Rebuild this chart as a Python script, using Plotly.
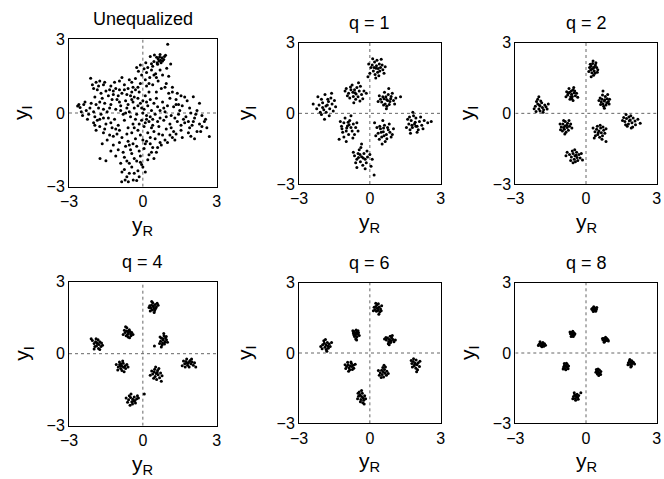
import plotly.graph_objects as go

W, H = 664, 479

TITLES = ["Unequalized", "q = 1", "q = 2", "q = 4", "q = 6", "q = 8"]
TICK_VALS = [-3, 0, 3]
TICK_TEXT = ["\u22123", "0", "3"]

UNEQ_PTS = [
    (1.01,2.80),(0.47,2.36),(0.56,2.27),(0.70,2.38),(0.78,2.25),(0.85,2.18),(0.66,2.12),(0.74,2.05),(0.60,1.98),
    (0.12,2.05),(-0.10,1.95),(0.20,1.85),(0.35,1.75),(-0.18,1.70),(0.45,2.10),(1.13,1.99),(0.97,1.82),(0.30,2.30),
    (-0.05,1.55),(0.52,1.60),(0.28,1.45),(0.80,1.55),(0.10,1.35),(-0.30,1.40),(0.62,1.30),(0.40,1.15),(0.95,1.20),
    (-0.45,1.25),(0.15,1.10),(1.20,1.05),(0.75,1.00),(-0.20,1.05),(0.55,0.85),(1.05,0.80),(0.90,1.05),
    (-2.12,1.41),(-1.90,1.25),(-1.75,1.30),(-1.60,1.15),(-2.00,1.00),(-1.85,0.95),(-1.50,0.90),(-1.30,1.10),
    (-1.10,1.00),(-0.95,1.30),(-0.75,1.15),(-0.60,1.00),(-1.40,0.70),(-1.20,0.75),(-1.65,0.60),(-1.95,0.65),
    (-0.85,0.80),(-0.50,0.70),(-1.05,0.55),(-0.70,0.50),(-1.55,0.40),(-1.30,0.35),(-0.90,0.30),(-0.40,0.45),
    (-1.80,0.20),(-1.10,0.15),(-0.65,0.20),(-1.45,0.05),(-0.30,0.95),(-0.85,1.45),(-1.70,0.80),(-1.25,0.55),(-0.55,1.35),
    (-2.55,0.22),(-2.65,0.28),(-2.40,0.35),(-2.30,0.10),(-2.20,-0.05),(-2.45,-0.10),(-2.10,0.40),(-1.95,-0.15),
    (-2.25,-0.25),(-2.00,0.05),(-1.85,-0.30),(-2.35,0.45),(-1.70,-0.05),(-1.60,-0.20),
    (-0.20,0.60),(0.10,0.70),(0.30,0.55),(-0.10,0.40),(0.20,0.30),(0.45,0.40),(-0.35,0.20),(0.05,0.15),(0.35,0.10),
    (-0.25,-0.05),(0.15,-0.10),(0.50,-0.05),(-0.50,-0.15),(-0.05,-0.30),(0.25,-0.35),(-0.40,-0.45),(0.05,-0.55),
    (0.40,-0.50),(-0.20,-0.70),(0.20,-0.80),(-0.60,-0.60),(0.60,0.25),(0.70,-0.20),(-0.75,-0.30),(-0.15,0.85),
    (0.55,0.60),(-0.55,0.05),(0.00,0.50),(-0.30,-0.25),(0.30,-0.15),(-0.10,-0.90),(0.45,-0.75),(-0.80,-0.05),
    (0.80,0.45),(-0.45,0.55),(0.10,-0.40),(-0.65,-0.85),(0.65,-0.55),(0.00,0.00),(-0.90,0.10),
    (2.05,0.66),(1.80,0.50),(1.55,0.70),(1.35,0.55),(1.10,0.60),(1.60,0.30),(1.90,0.20),(2.20,0.10),(1.25,0.25),
    (1.00,0.30),(2.40,-0.10),(2.10,-0.20),(1.75,-0.15),(1.45,-0.05),(1.15,-0.10),(0.90,0.05),(2.50,-0.35),
    (2.30,-0.45),(2.00,-0.50),(1.70,-0.40),(1.40,-0.35),(1.10,-0.45),(0.85,-0.30),(2.60,-0.60),(2.20,-0.75),
    (1.85,-0.80),(1.55,-0.70),(1.25,-0.75),(0.95,-0.65),(2.70,-0.96),(1.60,-1.00),(1.30,-1.10),(1.95,0.00),
    (2.55,-0.25),(1.50,0.10),(1.20,0.85),
    (-0.86,-2.80),(-0.72,-2.73),(-0.59,-2.80),(-0.39,-2.73),(-0.55,-2.45),(-0.75,-2.30),(-0.45,-2.20),(-0.20,-2.35),
    (-0.05,-2.10),(0.10,-2.40),(-0.90,-2.05),(-0.65,-1.95),(-0.35,-1.85),(-0.10,-1.75),(0.20,-1.90),(0.35,-1.60),
    (-1.10,-1.75),(-0.80,-1.60),(-0.50,-1.50),(-0.25,-1.35),(0.05,-1.45),(0.30,-1.25),(-1.20,-1.30),(-0.95,-1.20),
    (-0.60,-1.15),(-0.30,-1.05),(0.00,-1.10),(0.50,-1.05),(0.60,-1.40),(-0.15,-2.60),(-1.74,-1.85),(-1.50,-1.94),
    (-1.30,-1.55),(-1.45,-1.10),(0.45,-1.85),(0.70,-1.20),
    (-2.00,-0.40),(-1.75,-0.55),(-1.50,-0.45),(-1.25,-0.60),(-1.00,-0.50),(-1.60,-0.80),(-1.35,-0.90),(-1.05,-0.85),
    (-0.85,-1.00),(-1.90,-0.70),(-1.15,-0.25),(-1.40,-0.20),
    (0.80,-0.90),(1.00,-1.20),(0.75,-1.30),(1.10,-0.90),(0.55,-1.60),
    (0.62,2.20),(0.88,2.30),(0.72,2.15),(0.40,1.90),(0.05,1.80),(0.55,1.45),(0.25,1.20),(-0.40,1.05),(-0.10,1.20),
    (-1.35,0.95),(-0.95,0.95),(-1.75,0.45),(-0.65,0.75),(-0.20,0.30),(0.35,-0.60),(-0.35,-0.60),(0.15,-0.25),
    (1.65,-0.25),(2.05,-0.35),(1.30,-0.20),(2.35,-0.75),(1.90,-0.60),(-0.40,-1.25),(-0.15,-1.55),(0.15,-1.15),
    (-0.70,-1.35),(-0.25,-1.95),(0.00,-2.20),(-0.55,-2.05),(-1.20,-0.95),(-0.95,-0.70),(1.35,0.35),(0.70,0.10),
    (0.68,2.28),(0.80,2.12),(0.58,2.05),(0.92,2.35),(0.35,2.00),(0.15,1.65),(0.45,1.55),(-0.25,1.85),(0.70,1.75),
    (1.05,1.50),(-2.05,1.15),(-1.80,1.10),(-1.55,1.25),(-1.20,0.90),(-1.00,0.70),(-0.75,0.95),(-0.45,0.85),
    (-1.60,0.15),(-1.35,0.20),(-0.95,0.45),(-0.60,0.35),(-1.15,1.25),(-0.35,0.65),(-2.50,0.05),(-2.15,0.20),
    (-2.60,0.35),(-1.90,0.35),(0.25,0.85),(-0.05,0.20),(0.40,-0.25),(-0.15,-0.45),(0.60,-0.35),(-0.45,-0.80),
    (0.15,0.45),(-0.70,0.00),(0.85,0.20),(0.30,-1.00),(2.30,0.40),(1.70,0.65),(1.45,0.35),(2.15,-0.05),
    (1.85,-0.35),(1.55,-0.50),(2.40,-0.55),(1.95,-0.95),(1.15,-0.60),(2.10,-1.05),(0.95,-0.15),(1.40,0.80),
    (-0.65,-2.60),(-0.35,-2.45),(-0.85,-2.40),(-0.10,-2.00),(0.25,-1.70),(-0.45,-1.65),(-0.75,-1.80),(0.10,-1.25),
    (-0.55,-1.30),(-1.00,-1.50),(0.40,-1.40),(-0.25,-2.75),(-1.75,-0.25),(-1.55,-0.65),(-1.30,-0.40),(-1.10,-0.65),
    (-1.65,-1.25),(-1.95,-0.50),(0.90,-1.10),(1.20,-1.00),(0.65,-0.85),(1.35,-0.85),
]

Q1_PTS = [
    (0.26,1.91),(0.10,2.05),(0.40,2.10),(0.33,1.75),(0.15,1.80),(0.45,1.95),(0.05,1.95),(0.30,2.25),(0.20,2.18),
    (0.55,1.85),(0.38,1.60),(0.00,1.70),(-0.08,1.55),(0.22,1.65),(0.48,2.30),(0.60,1.70),(0.12,2.32),(0.35,1.90),
    (0.28,2.02),(0.18,1.95),(0.42,1.80),(-0.05,2.10),(0.52,2.05),(0.25,1.50),(0.65,1.98),
    (-0.63,0.88),(-0.80,1.00),(-0.45,0.95),(-0.70,0.72),(-0.55,1.10),(-0.90,0.85),(-0.35,0.80),(-0.60,0.60),
    (-1.00,1.05),(-0.75,1.20),(-0.40,1.15),(-0.50,0.70),(-0.85,0.65),(-0.25,0.95),(-0.65,1.00),(-0.95,0.75),
    (-0.30,0.62),(-0.58,0.82),(-0.72,0.90),(-0.48,1.30),(-1.05,0.95),(-0.15,0.85),(-0.68,0.45),(-0.82,1.12),(-0.42,0.52),
    (0.71,0.59),(0.55,0.70),(0.85,0.50),(0.65,0.40),(0.90,0.72),(0.50,0.48),(0.78,0.80),(0.60,0.62),(1.00,0.55),
    (0.72,0.30),(0.45,0.60),(0.82,0.38),(0.95,0.85),(0.62,0.90),(0.40,0.75),(1.10,0.65),(0.75,0.55),(0.68,0.70),
    (0.88,0.62),(0.58,0.35),(1.05,0.40),(0.35,0.50),(0.80,1.05),(0.70,0.20),(1.30,0.70),
    (-1.86,0.31),(-2.00,0.45),(-1.70,0.20),(-1.95,0.15),(-1.75,0.50),(-2.15,0.35),(-1.60,0.40),(-1.85,0.05),
    (-2.05,0.60),(-1.65,0.65),(-1.90,0.80),(-2.25,0.20),(-1.55,0.10),(-1.80,0.35),(-2.10,0.05),(-1.72,-0.10),
    (-2.00,0.25),(-1.50,0.55),(-1.92,-0.25),(-2.40,0.40),(-1.62,0.85),(-2.20,0.70),(-1.78,0.60),(-2.05,-0.05),(-1.45,0.28),
    (1.89,-0.45),(1.75,-0.30),(2.00,-0.55),(1.80,-0.60),(2.10,-0.35),(1.65,-0.45),(1.95,-0.20),(1.70,-0.70),
    (2.20,-0.50),(1.85,-0.10),(2.05,-0.70),(1.60,-0.25),(2.30,-0.30),(1.78,-0.50),(1.92,-0.38),(2.15,-0.15),
    (1.55,-0.60),(2.00,-0.80),(1.82,0.05),(2.45,-0.40),(1.68,-0.15),(2.25,-0.65),(1.95,-0.55),(1.72,-0.85),(2.60,-0.35),
    (-0.95,-0.54),(-1.10,-0.40),(-0.80,-0.60),(-1.00,-0.75),(-0.85,-0.30),(-1.20,-0.55),(-0.70,-0.45),(-0.90,-0.90),
    (-1.15,-0.80),(-0.75,-0.75),(-1.05,-0.20),(-0.60,-0.60),(-1.25,-0.35),(-0.88,-0.48),(-0.98,-0.62),(-0.65,-0.90),
    (-1.30,-1.10),(-0.80,-0.10),(-1.10,-1.00),(-0.55,-0.40),(-1.00,-1.20),(-0.72,-1.05),(-1.18,-0.65),(-0.92,-0.38),(-0.50,-0.75),
    (0.57,-0.78),(0.45,-0.65),(0.70,-0.90),(0.50,-1.00),(0.75,-0.60),(0.35,-0.85),(0.62,-0.50),(0.85,-0.80),
    (0.40,-1.10),(0.65,-1.20),(0.55,-0.30),(0.90,-1.00),(0.30,-0.60),(0.78,-0.70),(0.48,-0.80),(0.60,-0.95),
    (0.25,-0.95),(1.00,-0.65),(0.52,-1.30),(0.72,-1.08),(0.20,-0.40),(0.82,-0.45),(0.42,-0.55),(0.95,-0.90),(0.58,-0.62),
    (-0.35,-1.84),(-0.50,-1.70),(-0.20,-1.95),(-0.40,-2.05),(-0.55,-1.95),(-0.25,-1.70),(-0.10,-1.85),(-0.45,-1.55),
    (-0.65,-1.80),(-0.30,-2.20),(-0.15,-2.10),(0.00,-1.75),(-0.38,-1.45),(-0.60,-2.10),(-0.28,-1.90),(-0.48,-1.88),
    (0.10,-1.95),(-0.20,-2.35),(-0.70,-1.65),(-0.35,-1.30),(0.05,-2.25),(-0.55,-2.30),(0.18,-2.62),(-0.42,-1.75),(-0.12,-1.60),
]

Q2_PTS = [
    (0.31,1.91),(0.22,2.00),(0.40,2.05),(0.35,1.80),(0.20,1.85),(0.45,1.95),(0.28,2.12),(0.15,1.95),(0.38,1.70),
    (0.25,1.72),(0.50,1.85),(0.30,2.22),(0.18,2.08),(0.42,2.15),(0.32,1.62),(0.12,1.78),(0.48,1.75),(0.26,1.88),
    (0.36,1.98),(0.22,1.55),
    (-0.61,0.81),(-0.70,0.90),(-0.50,0.88),(-0.65,0.70),(-0.55,1.00),(-0.78,0.78),(-0.45,0.75),(-0.60,0.62),
    (-0.72,1.05),(-0.48,0.95),(-0.82,0.92),(-0.58,0.72),(-0.40,0.85),(-0.68,0.60),(-0.52,1.10),(-0.85,0.70),
    (-0.62,0.95),(-0.35,0.68),(-0.75,0.85),(-0.55,0.55),
    (0.78,0.52),(0.68,0.60),(0.88,0.45),(0.72,0.40),(0.90,0.62),(0.65,0.48),(0.82,0.72),(0.75,0.30),(0.95,0.50),
    (0.60,0.65),(0.85,0.35),(0.70,0.78),(1.00,0.60),(0.62,0.38),(0.80,0.58),(0.92,0.80),(0.55,0.55),(0.78,0.22),
    (0.98,0.40),(0.72,0.95),
    (-1.95,0.31),(-2.05,0.40),(-1.85,0.25),(-2.00,0.18),(-1.88,0.45),(-2.15,0.30),(-1.75,0.35),(-1.95,0.10),
    (-2.10,0.50),(-1.80,0.15),(-2.05,0.60),(-1.70,0.28),(-1.92,0.52),(-2.20,0.20),(-1.98,0.35),(-1.82,0.05),
    (-1.65,0.18),(-2.12,0.08),(-1.60,0.40),(-2.00,0.70),
    (1.84,-0.31),(1.72,-0.22),(1.95,-0.40),(1.80,-0.45),(2.00,-0.20),(1.65,-0.35),(1.90,-0.10),(1.75,-0.55),
    (2.08,-0.32),(1.60,-0.18),(1.88,-0.28),(2.10,-0.48),(1.70,-0.05),(1.98,-0.58),(1.55,-0.30),(1.82,-0.15),
    (2.20,-0.25),(1.92,-0.62),(1.68,-0.48),(2.30,-0.42),
    (-0.89,-0.54),(-0.98,-0.45),(-0.80,-0.60),(-0.92,-0.68),(-0.78,-0.42),(-1.05,-0.58),(-0.70,-0.55),(-0.88,-0.35),
    (-1.00,-0.75),(-0.75,-0.72),(-0.95,-0.30),(-0.65,-0.45),(-1.10,-0.45),(-0.85,-0.80),(-0.82,-0.50),(-0.95,-0.60),
    (-0.60,-0.62),(-1.08,-0.70),(-0.72,-0.30),(-0.90,-0.88),
    (0.55,-0.75),(0.45,-0.68),(0.65,-0.82),(0.50,-0.90),(0.62,-0.62),(0.38,-0.78),(0.70,-0.95),(0.48,-0.55),
    (0.75,-0.72),(0.58,-1.02),(0.40,-0.95),(0.80,-0.85),(0.30,-0.62),(0.60,-0.50),(0.68,-1.10),(0.52,-0.82),
    (0.85,-0.65),(0.35,-1.05),(0.72,-0.58),(0.85,-1.20),
    (-0.47,-1.80),(-0.55,-1.70),(-0.38,-1.88),(-0.50,-1.95),(-0.40,-1.65),(-0.62,-1.85),(-0.30,-1.75),(-0.45,-2.05),
    (-0.70,-1.75),(-0.35,-2.00),(-0.58,-1.60),(-0.25,-1.90),(-0.80,-1.65),(-0.48,-1.55),(-0.20,-1.70),(-0.65,-2.00),
    (-0.42,-1.78),(-0.15,-1.98),(-0.55,-2.10),(-0.85,-1.80),
]

Q4_PTS = [
    (0.43,1.96),(0.35,2.02),(0.50,2.05),(0.45,1.88),(0.32,1.90),(0.55,1.95),(0.40,2.12),(0.28,2.00),(0.48,1.80),
    (0.38,1.82),(0.58,2.10),(0.42,2.00),(0.30,1.78),(0.52,1.88),(0.62,2.02),(0.36,2.18),(0.46,1.72),(0.25,1.92),
    (-0.59,0.875),(-0.66,0.95),(-0.52,0.92),(-0.62,0.80),(-0.50,0.82),(-0.72,0.88),(-0.55,1.00),(-0.68,0.75),
    (-0.45,0.88),(-0.60,0.70),(-0.75,0.98),(-0.48,0.75),(-0.58,0.95),(-0.80,0.80),(-0.65,1.08),(-0.40,0.80),
    (-0.70,1.12),(-0.54,0.66),
    (0.83,0.57),(0.76,0.64),(0.90,0.50),(0.80,0.45),(0.92,0.66),(0.72,0.52),(0.86,0.75),(0.78,0.36),(0.96,0.58),
    (0.70,0.70),(0.88,0.40),(0.82,0.62),(0.75,0.28),(1.00,0.48),(0.68,0.42),(0.85,0.84),(0.47,0.32),(0.95,0.72),
    (-1.85,0.43),(-1.92,0.50),(-1.78,0.38),(-1.88,0.32),(-1.75,0.50),(-1.98,0.42),(-1.82,0.58),(-1.70,0.30),
    (-1.95,0.30),(-1.80,0.22),(-2.05,0.55),(-1.68,0.45),(-1.90,0.62),(-1.75,0.18),(-1.86,0.46),(-2.10,0.62),
    (-1.64,0.35),(-1.98,0.20),
    (1.85,-0.375),(1.75,-0.32),(1.95,-0.42),(1.82,-0.48),(1.92,-0.28),(1.70,-0.42),(2.00,-0.35),(1.78,-0.22),
    (1.88,-0.55),(2.05,-0.48),(1.65,-0.30),(1.98,-0.22),(1.80,-0.40),(2.10,-0.38),(1.60,-0.50),(1.90,-0.32),
    (2.15,-0.55),(1.72,-0.55),
    (-0.86,-0.51),(-0.94,-0.45),(-0.78,-0.56),(-0.90,-0.62),(-0.80,-0.40),(-1.00,-0.55),(-0.72,-0.50),(-0.85,-0.70),
    (-0.95,-0.35),(-0.70,-0.62),(-1.02,-0.68),(-0.82,-0.30),(-0.65,-0.45),(-0.92,-0.50),(-0.76,-0.75),(-1.08,-0.45),
    (-0.60,-0.55),(-0.88,-0.42),
    (0.54,-0.82),(0.46,-0.75),(0.62,-0.88),(0.50,-0.95),(0.60,-0.70),(0.40,-0.85),(0.68,-1.00),(0.48,-0.65),
    (0.72,-0.80),(0.56,-1.08),(0.36,-0.72),(0.65,-0.62),(0.44,-1.02),(0.78,-0.92),(0.58,-0.78),(0.30,-0.90),
    (0.75,-1.15),(0.52,-0.55),
    (-0.41,-1.90),(-0.50,-1.82),(-0.32,-1.95),(-0.45,-2.00),(-0.35,-1.80),(-0.58,-1.92),(-0.25,-1.88),(-0.42,-2.10),
    (-0.55,-1.75),(-0.30,-2.05),(-0.62,-2.02),(-0.18,-1.85),(-0.48,-1.68),(-0.38,-1.98),(-0.68,-1.85),(-0.22,-1.75),
    (0.06,-1.68),(-0.52,-2.15),
]

Q6_PTS = [
    (0.32,1.91),(0.25,1.98),(0.40,1.96),(0.35,1.82),(0.22,1.86),(0.45,1.88),(0.30,2.05),(0.18,1.95),(0.42,1.75),
    (0.28,1.78),(0.50,2.02),(0.36,2.10),(0.15,1.80),(0.48,1.80),(0.38,1.65),(0.25,2.12),
    (-0.60,0.84),(-0.66,0.92),(-0.54,0.90),(-0.62,0.76),(-0.52,0.80),(-0.70,0.85),(-0.58,0.98),(-0.48,0.86),
    (-0.65,0.70),(-0.55,0.68),(-0.72,0.95),(-0.45,0.75),(-0.60,0.60),(-0.50,0.95),(-0.68,0.78),(-0.56,0.55),
    (0.83,0.58),(0.75,0.64),(0.90,0.52),(0.80,0.48),(0.92,0.65),(0.70,0.55),(0.86,0.72),(0.98,0.58),(0.78,0.40),
    (0.68,0.66),(1.02,0.48),(0.88,0.45),(0.95,0.75),(0.62,0.60),(1.08,0.55),(0.82,0.35),
    (-1.86,0.34),(-1.93,0.42),(-1.78,0.30),(-1.90,0.25),(-1.80,0.45),(-2.00,0.35),(-1.72,0.38),(-1.85,0.15),
    (-1.95,0.52),(-1.76,0.20),(-2.08,0.28),(-1.68,0.28),(-1.88,0.58),(-2.02,0.18),(-1.82,0.08),(-1.62,0.45),
    (1.92,-0.44),(1.84,-0.36),(2.00,-0.50),(1.88,-0.55),(1.96,-0.30),(1.78,-0.45),(2.05,-0.42),(1.85,-0.25),
    (1.95,-0.65),(2.10,-0.58),(1.75,-0.32),(2.02,-0.72),(1.90,-0.48),(2.12,-0.35),(1.80,-0.60),(1.98,-0.80),
    (-0.84,-0.55),(-0.92,-0.50),(-0.76,-0.58),(-0.88,-0.64),(-0.78,-0.45),(-0.98,-0.58),(-0.70,-0.52),(-0.85,-0.72),
    (-0.94,-0.40),(-0.68,-0.65),(-1.02,-0.66),(-0.80,-0.38),(-0.62,-0.48),(-0.90,-0.78),(-0.74,-0.70),(-1.05,-0.50),
    (0.57,-0.80),(0.50,-0.74),(0.64,-0.86),(0.52,-0.92),(0.62,-0.70),(0.44,-0.84),(0.70,-0.95),(0.55,-0.62),
    (0.72,-0.78),(0.58,-1.02),(0.40,-0.95),(0.66,-0.60),(0.48,-1.05),(0.78,-0.88),(0.60,-0.52),(0.36,-0.75),
    (-0.35,-1.86),(-0.42,-1.78),(-0.28,-1.92),(-0.38,-1.98),(-0.32,-1.72),(-0.48,-1.85),(-0.22,-1.82),(-0.40,-2.08),
    (-0.45,-1.66),(-0.26,-2.02),(-0.52,-1.95),(-0.18,-1.95),(-0.35,-1.60),(-0.30,-2.12),(-0.50,-1.72),(-0.24,-2.18),
]

Q8_PTS = [
    (0.34,1.87),(0.29,1.92),(0.40,1.91),(0.37,1.82),(0.28,1.83),(0.44,1.86),(0.33,1.97),(0.24,1.88),(0.41,1.78),
    (0.31,1.77),(0.46,1.94),(0.35,1.90),
    (-0.57,0.81),(-0.62,0.88),(-0.52,0.86),(-0.60,0.74),(-0.50,0.77),(-0.66,0.82),(-0.56,0.93),(-0.47,0.82),
    (-0.63,0.70),(-0.54,0.70),(-0.68,0.90),(-0.58,0.84),
    (0.81,0.57),(0.75,0.62),(0.87,0.53),(0.79,0.50),(0.88,0.62),(0.72,0.55),(0.83,0.67),(0.93,0.57),(0.77,0.46),
    (0.70,0.62),(0.95,0.51),(0.84,0.60),
    (-1.88,0.38),(-1.94,0.43),(-1.82,0.35),(-1.91,0.31),(-1.83,0.45),(-1.99,0.37),(-1.76,0.40),(-1.87,0.27),
    (-1.95,0.48),(-1.79,0.29),(-2.02,0.32),(-1.72,0.33),
    (1.90,-0.40),(1.84,-0.34),(1.96,-0.45),(1.88,-0.49),(1.94,-0.33),(1.80,-0.42),(2.01,-0.39),(1.86,-0.28),
    (1.93,-0.56),(2.06,-0.47),(1.78,-0.50),(1.90,-0.60),
    (-0.85,-0.57),(-0.91,-0.52),(-0.79,-0.60),(-0.88,-0.66),(-0.80,-0.48),(-0.95,-0.60),(-0.74,-0.55),(-0.86,-0.72),
    (-0.92,-0.45),(-0.76,-0.67),(-0.97,-0.68),(-0.83,-0.44),
    (0.52,-0.81),(0.46,-0.76),(0.58,-0.86),(0.48,-0.90),(0.57,-0.73),(0.42,-0.82),(0.62,-0.92),(0.51,-0.68),
    (0.63,-0.79),(0.54,-0.96),(0.44,-0.70),(0.50,-0.84),
    (-0.42,-1.84),(-0.48,-1.78),(-0.36,-1.89),(-0.45,-1.94),(-0.38,-1.76),(-0.53,-1.86),(-0.31,-1.81),(-0.44,-2.02),
    (-0.50,-1.70),(-0.33,-1.97),(-0.56,-1.95),(-0.22,-1.70),
]

PANELS = [UNEQ_PTS, Q1_PTS, Q2_PTS, Q4_PTS, Q6_PTS, Q8_PTS]

# panel boxes in page pixels: (left, right, top, bottom)
BOXES = [
    (69, 216.7, 39.3, 186.7), (299, 440.7, 42.7, 184), (515.3, 656.7, 42.7, 184),
    (69, 216.7, 281.7, 425.7), (299, 440.7, 282.7, 423.3), (515.3, 656.7, 282.7, 423.3),
]
YLABEL_X = [22, 246, 468, 23, 246, 469]

FONT = "Liberation Sans, Arial, Helvetica, sans-serif"

fig = go.Figure()
annotations = []
shapes = []
layout_axes = {}

for i, (pts, box) in enumerate(zip(PANELS, BOXES)):
    n = "" if i == 0 else str(i + 1)
    xa, ya = "x" + n, "y" + n
    l, r, t, b = box
    xd = [l / W, r / W]
    yd = [1 - b / H, 1 - t / H]
    fig.add_trace(go.Scatter(
        x=[p[0] for p in pts], y=[p[1] for p in pts], mode="markers",
        marker=dict(size=3, color="black", line=dict(width=0)),
        xaxis=xa, yaxis=ya, showlegend=False, hoverinfo="skip"))
    common = dict(range=[-3, 3], showgrid=False, zeroline=False, showline=True,
                  linecolor="black", linewidth=1, mirror=True, ticks="",
                  tickvals=TICK_VALS, ticktext=TICK_TEXT, automargin=False,
                  tickfont=dict(family=FONT, size=16, color="black"), fixedrange=True)
    layout_axes["xaxis" + n] = dict(domain=xd, anchor=ya, **common)
    layout_axes["yaxis" + n] = dict(domain=yd, anchor=xa, **common)
    shapes.append(dict(type="line", xref=xa, yref=ya, x0=-3, x1=3, y0=0, y1=0,
                       line=dict(color="#666666", width=1, dash="dot"), layer="below"))
    shapes.append(dict(type="line", xref=xa, yref=ya, x0=0, x1=0, y0=-3, y1=3,
                       line=dict(color="#666666", width=1, dash="dot"), layer="below"))
    cx = (l + r) / 2 / W
    annotations.append(dict(text=TITLES[i], xref="paper", yref="paper", x=cx, y=yd[1],
                            xanchor="center", yanchor="bottom", yshift=8, showarrow=False,
                            font=dict(family=FONT, size=18, color="black")))
    annotations.append(dict(text="y<sub>R</sub>", xref="paper", yref="paper", x=cx, y=yd[0],
                            xanchor="center", yanchor="top", yshift=-24, showarrow=False,
                            font=dict(family=FONT, size=21, color="black")))
    annotations.append(dict(text="y<sub>I</sub>", xref="paper", yref="paper",
                            x=YLABEL_X[i] / W, y=(yd[0] + yd[1]) / 2, textangle=-90,
                            xanchor="center", yanchor="middle", showarrow=False,
                            font=dict(family=FONT, size=21, color="black")))

fig.update_layout(width=W, height=H, margin=dict(l=0, r=0, t=0, b=0, pad=0),
                  autosize=False, paper_bgcolor="white", plot_bgcolor="white",
                  annotations=annotations, shapes=shapes, **layout_axes)

fig.write_html("out.html", config={"displayModeBar": False},
               post_script="document.body.style.margin='0px';")
